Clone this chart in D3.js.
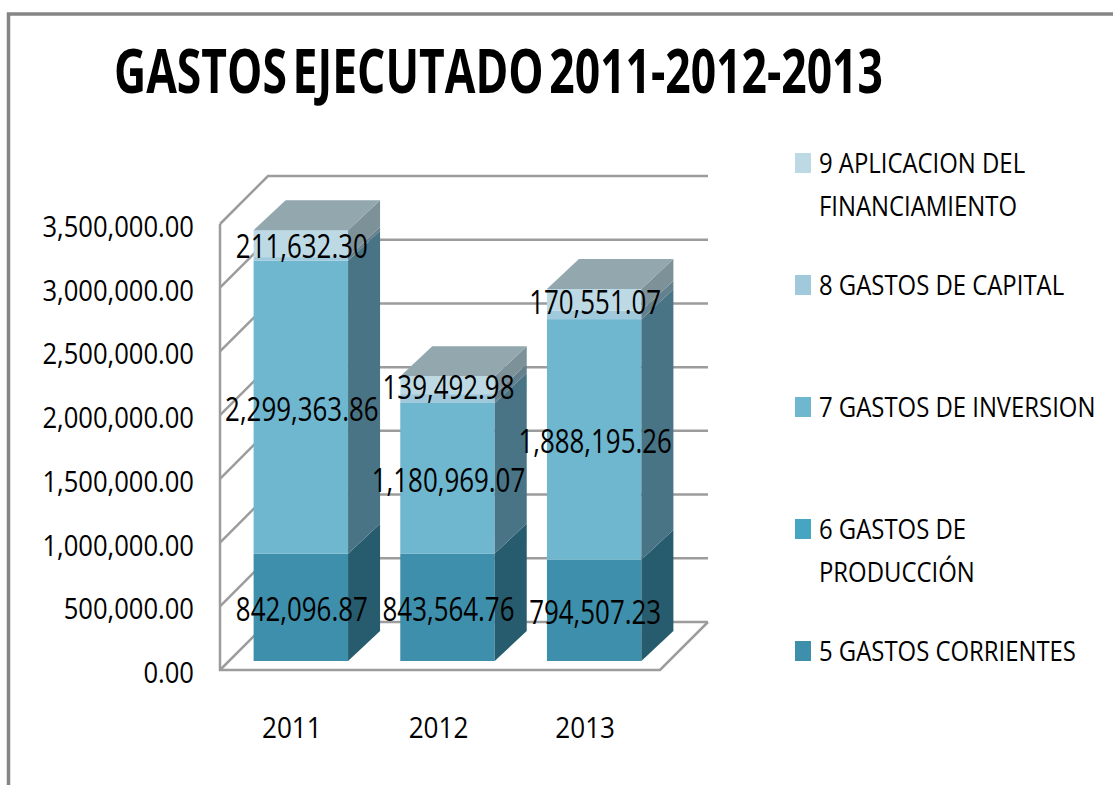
<!DOCTYPE html>
<html>
<head>
<meta charset="utf-8">
<title>Gastos ejecutado</title>
<script src="https://cdn.jsdelivr.net/npm/d3@7"></script>
<style>
body { margin: 0; background: #fff; }
text { font-family: "Open Sans", sans-serif; fill: #000; }
</style>
</head>
<body>
<svg id="chart"></svg>
<script>
var title_text = "GASTOS EJECUTADO 2011-2012-2013";
var categories = ["2011", "2012", "2013"];
var tick_values = [0, 500000, 1000000, 1500000, 2000000, 2500000, 3000000, 3500000];

// series, bottom to top
var gastos_5 = [842096.87, 843564.76, 794507.23];
var gastos_6 = [0, 0, 0];
var gastos_7 = [2299363.86, 1180969.07, 1888195.26];
var gastos_8 = [28000, 70000, 66000]; // no label in the picture, estimated from the thin band
var gastos_9 = [211632.30, 139492.98, 170551.07];

var series_keys = ["g5", "g6", "g7", "g8", "g9"];
var series_values = [gastos_5, gastos_6, gastos_7, gastos_8, gastos_9];
var labelled_keys = ["g5", "g7", "g9"];
var legend_lines = [
    ["9 APLICACION DEL", "FINANCIAMIENTO"],
    ["8 GASTOS DE CAPITAL"],
    ["7 GASTOS DE INVERSION"],
    ["6 GASTOS DE", "PRODUCCIÓN"],
    ["5 GASTOS CORRIENTES"]
];
var legend_keys = ["g9", "g8", "g7", "g6", "g5"];

var color_front = {g5: "#3e8fab", g6: "#46a5c0", g7: "#6fb6cf", g8: "#a0c9dc", g9: "#bcd9e4"};
var color_side = {g5: "#265c6d", g6: "#2b6878", g7: "#487485", g8: "#64808c", g9: "#7d9199"};
var color_top = "#92a7ae";
var color_grid = "#9c9c9c";

var width = 1113, height = 785;
var svg = d3.select("#chart").attr("width", width).attr("height", height);

// text squeezed horizontally, the reference is a stretched image
function put_text(g, str, x, y, size, sx, anchor, weight){
    return g.append("text")
        .attr("transform", "translate(" + x + "," + y + ") scale(" + sx + ",1)")
        .attr("text-anchor", anchor)
        .style("font-size", size + "px")
        .style("font-weight", weight || 400)
        .text(str);
}

// frame
svg.append("path")
    .attr("d", "M8.5," + height + "V14H" + width)
    .attr("fill", "none")
    .attr("stroke", "#858585")
    .attr("stroke-width", 3.5);

put_text(svg, title_text, 114, 93, 60, 0.741, "start", 700)
    .style("word-spacing", "-8px");

// scales
var wall_depth = 48, bar_dx = 32, bar_dy = 30;
var y_wall = d3.scaleLinear().domain([0, 3500000]).range([670, 224]);
var y_bar = d3.scaleLinear().domain([0, 3500000]).range([661, 215]);
var x = d3.scaleBand().domain(categories).range([227.5, 667.5]).paddingInner(0.356).paddingOuter(0.178);

var wall_left = 220, wall_right = 660;

// floor + walls
var grid = svg.append("g")
    .attr("fill", "none")
    .attr("stroke", color_grid)
    .attr("stroke-width", 2.5);

grid.append("path").attr("d", "M" + wall_left + "," + y_wall(3500000) + "V" + y_wall(0) + "H" + wall_right
    + "L" + (wall_right + wall_depth) + "," + (y_wall(0) - wall_depth));

grid.selectAll(".grid_line")
    .data(tick_values)
    .enter().append("path")
    .attr("class", "grid_line")
    .attr("d", function(d){
        return "M" + wall_left + "," + y_wall(d)
            + "L" + (wall_left + wall_depth) + "," + (y_wall(d) - wall_depth)
            + "H" + (wall_right + wall_depth);
    });

// tick labels
tick_values.forEach(function(v){
    put_text(svg, d3.format(",.2f")(v), 194, y_wall(v) + 13, 30, 0.853, "end");
});

// stacked bars
var table = categories.map(function(c, i){
    var row = {cat: c};
    series_keys.forEach(function(k, j){ row[k] = series_values[j][i]; });
    return row;
});
var stacked = d3.stack().keys(series_keys)(table);

var labels = [];
stacked.forEach(function(layer){
    var key = layer.key;
    var seg = svg.append("g").attr("class", "series_" + key);
    layer.forEach(function(d){
        var cat = d.data.cat;
        var x0 = x(cat), x1 = x0 + x.bandwidth();
        var y0 = y_bar(d[0]), y1 = y_bar(d[1]);
        if(d[1] - d[0] <= 0) return;
        seg.append("rect")
            .attr("x", x0).attr("y", y1)
            .attr("width", x.bandwidth()).attr("height", y0 - y1)
            .attr("fill", color_front[key]);
        seg.append("path")
            .attr("d", "M" + x1 + "," + y0 + "L" + (x1 + bar_dx) + "," + (y0 - bar_dy)
                + "V" + (y1 - bar_dy) + "L" + x1 + "," + y1 + "Z")
            .attr("fill", color_side[key]);
        if(labelled_keys.indexOf(key) >= 0){
            labels.push({
                text: d3.format(",.2f")(d[1] - d[0]),
                x: x0 + x.bandwidth() / 2 + 1,
                y: (y0 + y1) / 2 + 14
            });
        }
    });
});

// top faces
svg.append("g").selectAll("path")
    .data(stacked[stacked.length - 1])
    .enter().append("path")
    .attr("d", function(d){
        var x0 = x(d.data.cat), x1 = x0 + x.bandwidth(), y1 = y_bar(d[1]);
        return "M" + x0 + "," + y1 + "L" + (x0 + bar_dx) + "," + (y1 - bar_dy)
            + "H" + (x1 + bar_dx) + "L" + x1 + "," + y1 + "Z";
    })
    .attr("fill", color_top);

// value labels
labels.forEach(function(d){
    put_text(svg, d.text, d.x, d.y, 33, 0.785, "middle");
});

// category labels
categories.forEach(function(c){
    put_text(svg, c, x(c) + x.bandwidth() / 2 - 9, 738, 30, 0.87, "middle");
});

// legend
var legend_y = d3.scalePoint().domain(legend_keys).range([173, 661]);
legend_keys.forEach(function(k, i){
    var base = legend_y(k);
    svg.append("rect")
        .attr("x", 795).attr("y", base - 20)
        .attr("width", 16).attr("height", 20)
        .attr("fill", color_front[k]);
    legend_lines[i].forEach(function(line, j){
        put_text(svg, line, 819, base + j * 43, 28, 0.853, "start");
    });
});
</script>
</body>
</html>
